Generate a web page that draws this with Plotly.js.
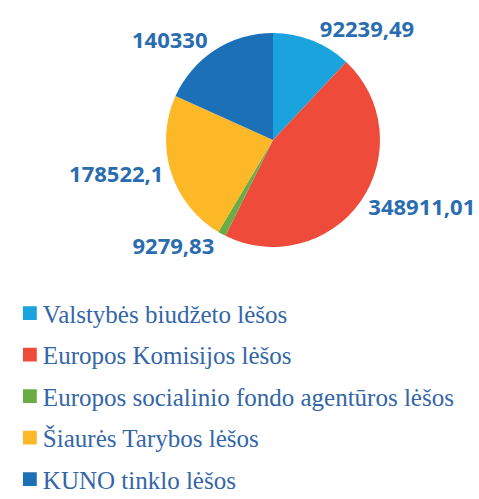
<!DOCTYPE html>
<html>
<head>
<meta charset="utf-8">
<script src="https://cdn.plot.ly/plotly-3.0.1.min.js"></script>
<style>html,body{margin:0;padding:0;background:#fff;}</style>
</head>
<body>
<div id="chart" style="width:479px;height:499px;"></div>
<script>
const categories = [
  "Valstybės biudžeto lėšos",
  "Europos Komisijos lėšos",
  "Europos socialinio fondo agentūros lėšos",
  "Šiaurės Tarybos lėšos",
  "KUNO tinklo lėšos"
];
const values = [92239.49, 348911.01, 9279.83, 178522.1, 140330];
const colors = ["#1aa3dc", "#ef4b3a", "#6aac45", "#fcb827", "#1c70b8"];

const labelsText = values.map(v => String(v).replace('.', ','));

const trace = {
  type: 'pie',
  labels: categories,
  values: values,
  text: labelsText,
  textinfo: 'text',
  textposition: 'outside',
  sort: false,
  direction: 'clockwise',
  rotation: 0,
  marker: { colors: colors, line: { color: '#ffffff', width: 0 } },
  outsidetextfont: { family: 'Open Sans, sans-serif', size: 22, color: '#2a6cb0', weight: 'bold' },
  domain: { x: [0.3466, 0.7933], y: [0.505, 0.934] },
  hoverinfo: 'none'
};

const layout = {
  width: 479, height: 499,
  margin: { l: 0, r: 0, t: 0, b: 0 },
  paper_bgcolor: '#ffffff',
  showlegend: true,
  legend: {
    x: 0.006, y: 0.418, xanchor: 'left', yanchor: 'top',
    font: { family: 'Liberation Serif, Times New Roman, serif', size: 25, color: '#3366a8' },
    bgcolor: 'rgba(0,0,0,0)'
  }
};

Plotly.newPlot('chart', [trace], layout, { displayModeBar: false, staticPlot: true }).then(gd => {
  // widen the spacing between legend entries to match the reference
  const pitch = 41.5;
  const items = gd.querySelectorAll('.legend .traces');
  let y0 = null;
  items.forEach((t, i) => {
    const m = /translate\(\s*([-\d.e]+)[,\s]+([-\d.e]+)\s*\)/.exec(t.getAttribute('transform') || '');
    if (!m) return;
    if (y0 === null) y0 = parseFloat(m[2]);
    t.setAttribute('transform', 'translate(' + m[1] + ',' + (y0 + i * pitch) + ')');
    const pts = t.querySelector('.legendpoints');
    if (pts) pts.setAttribute('transform', 'translate(4,0) scale(1.15)');
  });
  document.querySelectorAll('clipPath').forEach(cp => {
    if (cp.id && cp.id.indexOf('legend') === 0) {
      const r = cp.querySelector('rect');
      if (r) r.setAttribute('height', 400);
    }
  });
});
</script>
</body>
</html>
